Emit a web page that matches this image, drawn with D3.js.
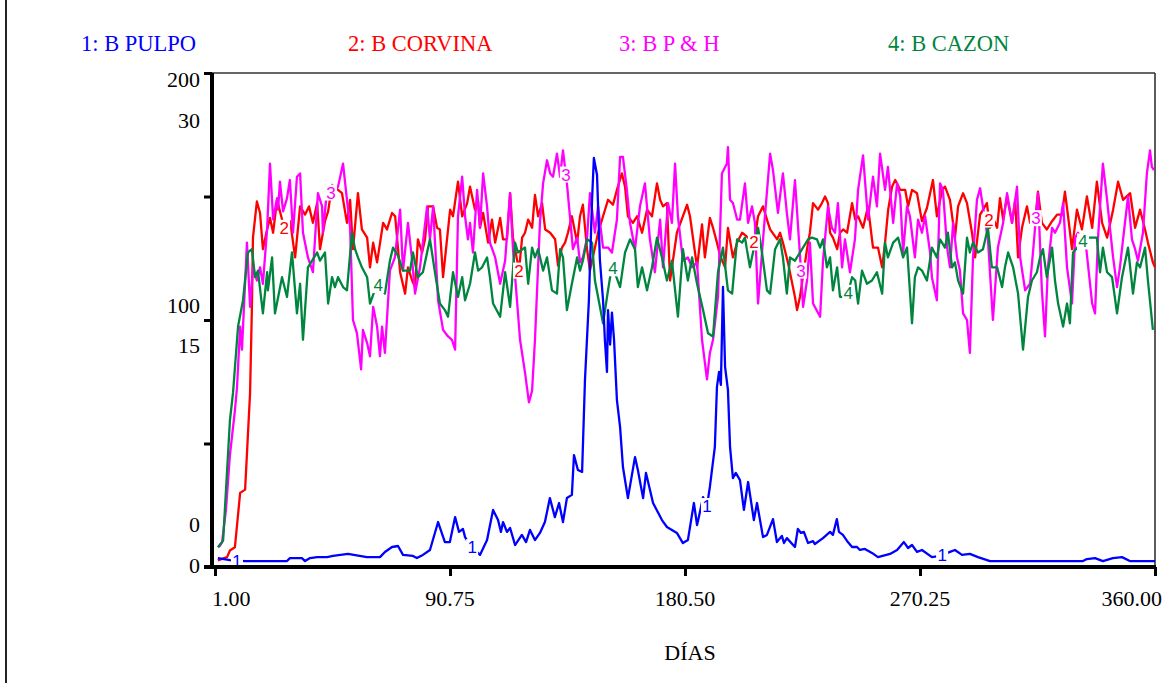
<!DOCTYPE html>
<html><head><meta charset="utf-8">
<script src="https://cdn.jsdelivr.net/npm/d3@7"></script>
<style>body{margin:0;background:#fff;} svg{display:block;}</style>
</head><body>
<svg id="chart" width="1171" height="683"></svg>
<script>
// ---------- DATA ----------
const seriesNames = ["1: B PULPO", "2: B CORVINA", "3: B P & H", "4: B CAZON"];
const xTickValues = [1, 90.75, 180.5, 270.25, 360];
const xTickLabels = ["1.00", "90.75", "180.50", "270.25", "360.00"];
const yTicksPulpo = [0, 50, 100, 150, 200];
const yLabelsPulpo = ["0", "", "100", "", "200"];
const yLabelsOthers = ["0", "", "15", "", "30"];
const xTitle = "DÍAS";

// [day, value]
const pulpo = [[2.1,3.6],[6.7,2.8],[12.5,2.4],[28.5,2.4],[29.6,3.6],[34.2,3.6],[35.4,2.4],[37.3,3.6],[40,4.0],[43.8,4.0],[46.1,4.5],[51.8,5.3],[59,4.0],[64,4.0],[65.9,6.1],[68.6,8.1],[70.9,8.5],[72.8,4.9],[76.6,4.5],[78.1,3.6],[80.4,4.9],[83.1,6.9],[86.2,18.2],[88.8,10.1],[90.7,10.1],[92.7,20.2],[94.2,14.2],[95.7,15.4],[96.5,12.1],[98.4,8.9],[102.2,4.9],[104.9,10.9],[107.2,23.1],[109.1,19.0],[110.2,14.2],[111,18.2],[112.5,14.2],[113.7,15.8],[115.6,8.9],[118.2,13.0],[119.8,10.1],[121.3,15.0],[123.2,10.9],[125.1,13.8],[127,18.2],[128.9,27.9],[130.8,20.2],[132.4,25.9],[133.9,18.2],[135.4,27.9],[137.3,29.2],[138.1,45.3],[139.6,39.3],[141.2,38.5],[142.3,75.7],[143.8,108.1],[145.0,148.6],[145.7,165.6],[146.9,158.7],[148.0,124.3],[149.2,108],[149.9,92],[150.7,79],[151.1,104],[151.9,90],[152.6,103],[153.4,92],[154.5,67.6],[155.7,56.7],[156.8,40.5],[158.7,27.9],[161.4,44.5],[162.5,39.3],[164.5,27.9],[165.6,38.1],[168.3,25.9],[171.7,19.0],[173.6,16.2],[175.5,15.0],[177.4,13.8],[179.7,9.7],[181.6,10.9],[183.9,25.9],[185.1,17.0],[185.8,20.2],[187.4,28.3],[188.9,24.7],[190.0,32.4],[191.9,48.6],[192.7,72.9],[193.5,79.0],[194.2,73.7],[195.0,113.4],[195.8,81.0],[196.9,71.7],[197.7,48.6],[198.8,36.0],[199.9,38.1],[201.5,35.2],[203.0,23.1],[204.6,34.4],[206.8,19.0],[208.0,25.9],[210.3,12.1],[211.8,13.0],[214.1,19.4],[215.6,10.1],[217.5,12.6],[218.3,9.7],[219.4,11.7],[222.5,8.1],[223.6,15.4],[224.8,13.8],[225.9,14.2],[227.5,9.7],[229.4,10.5],[230.1,9.3],[233.2,11.7],[235.9,14.2],[237.0,13.0],[238.5,19.4],[239.3,14.2],[240.8,13.0],[242.7,10.1],[244.3,8.1],[246.2,8.1],[247.3,6.9],[249.2,7.3],[251.9,5.7],[254.2,4.0],[258.8,5.3],[261.5,6.9],[264.1,10.1],[265.7,7.7],[267.2,8.9],[269.1,6.1],[271.0,6.9],[274.8,4.0],[277.9,4.5],[281.7,6.1],[283.6,6.9],[286.3,4.9],[289.3,5.3],[292.4,4.0],[297.0,2.4],[332.5,2.4],[334.0,3.2],[337.1,3.6],[340.1,2.4],[343.9,3.6],[347.4,4.0],[350.4,2.4],[360,2.4]];

const corvina = [[2.1,0.4],[5.6,0.6],[6.7,1.0],[8.6,1.2],[10.6,4.5],[12.5,4.7],[14.4,10.6],[15.1,15.8],[15.5,20.0],[17.0,22.2],[18.2,21.5],[19.3,19.3],[20.9,20.5],[22.0,21.2],[23.2,20.3],[24.7,22.3],[27.4,20.6],[29.7,21.0],[31.6,18.8],[33.5,21.9],[35.4,21.4],[36.9,21.9],[38.4,20.9],[40.0,22.1],[41.1,19.3],[43.0,21.0],[44.2,21.6],[45.7,23.2],[49.5,22.7],[51.4,20.9],[52.6,22.3],[53.7,19.3],[55.6,22.7],[57.1,20.5],[59.1,20.0],[60.2,18.2],[61.4,19.7],[62.9,18.5],[65.2,20.9],[66.7,20.5],[68.6,21.5],[69.8,21.3],[71.7,17.9],[73.6,16.6],[74.7,18.2],[76.3,17.4],[77.4,17.0],[78.5,19.9],[80.1,19.1],[81.2,19.9],[82.4,21.9],[84.3,21.9],[85.8,20.6],[86.9,20.5],[88.1,17.6],[90.8,21.7],[91.9,21.3],[93.8,23.4],[95.4,21.3],[97.3,22.1],[98.4,23.1],[100.3,21.7],[101.5,22.2],[102.2,20.6],[103.4,21.5],[105.3,19.7],[106.8,21.1],[108.0,19.7],[109.9,21.2],[111.0,19.9],[112.5,19.9],[113.7,22.7],[114.8,20.0],[117.1,18.0],[118.3,20.0],[119.4,20.3],[120.6,21.1],[122.1,20.6],[123.2,22.6],[124.4,21.3],[125.9,22.1],[127.1,20.5],[129.0,20.3],[130.9,19.9],[132.0,18.3],[133.5,19.4],[134.7,19.7],[135.8,20.3],[137.3,21.3],[139.3,19.7],[140.4,21.3],[141.5,22.0],[143.1,19.3],[144.2,18.0],[146.1,19.4],[147.3,20.3],[149.2,21.3],[151.1,22.3],[153.0,22.0],[154.5,22.9],[156.4,23.9],[157.6,23.1],[158.7,21.3],[160.6,20.9],[162.2,21.3],[164.1,20.3],[166.0,21.7],[167.9,21.3],[169.8,23.3],[171.0,22.3],[172.1,21.9],[173.6,22.1],[174.8,17.4],[177.4,20.3],[181.3,22.0],[182.4,21.3],[185.1,18.2],[187.0,20.8],[188.1,18.8],[190.0,21.2],[191.2,20.6],[192.7,19.7],[193.9,18.9],[195.8,18.2],[196.9,20.6],[198.8,18.8],[200.4,19.7],[202.3,20.3],[206.9,19.7],[208.4,21.3],[210.3,21.9],[211.8,21.1],[213.0,20.5],[215.7,19.9],[216.8,20.3],[217.9,19.7],[219.8,18.5],[222.5,16.4],[223.3,15.6],[224.4,16.4],[227.1,19.3],[228.2,20.3],[229.4,22.1],[231.3,21.7],[232.8,22.1],[234.0,22.5],[235.1,22.1],[235.9,20.3],[237.0,20.0],[238.6,19.3],[239.7,20.3],[240.9,20.5],[242.4,20.3],[244.3,22.1],[245.5,21.1],[246.6,21.3],[248.5,20.6],[250.4,21.9],[252.3,19.4],[254.2,19.4],[255.8,18.2],[256.9,19.7],[258.1,21.7],[259.6,23.1],[260.8,23.5],[262.7,22.9],[264.6,22.9],[265.7,21.9],[267.2,22.9],[269.1,22.7],[271.0,21.0],[272.9,21.8],[275.2,23.5],[276.7,21.3],[278.7,22.9],[279.8,23.1],[281.7,22.3],[283.6,20.0],[284.8,21.9],[286.7,22.7],[288.2,22.1],[290.1,20.3],[291.3,18.8],[293.2,21.4],[295.8,22.1],[297.0,20.6],[298.1,21.2],[299.7,20.6],[300.8,22.4],[302.0,21.1],[303.5,22.5],[305.4,20.9],[306.6,22.3],[307.7,18.8],[309.2,20.6],[311.1,21.9],[312.3,20.9],[314.2,20.9],[315.3,22.8],[316.8,20.9],[318.7,20.5],[320.7,21.0],[322.6,21.4],[324.5,21.4],[325.6,22.8],[326.8,21.3],[328.3,19.3],[330.2,21.7],[332.1,20.5],[334.0,22.5],[336.0,20.6],[337.8,23.4],[339.8,20.9],[341.7,20.0],[344.0,21.7],[345.9,23.4],[347.8,22.3],[350.5,22.7],[352.4,20.6],[354.3,21.7],[356.2,20.5],[357.3,19.7],[359.2,18.5],[360,18.2]];

const pph = [[2.5,1.2],[3.7,1.5],[5.2,3.5],[6.7,6.8],[8.6,9.5],[9.4,10.9],[10.6,14.6],[11.3,13.2],[13.2,19.7],[14.4,15.8],[15.5,18.2],[17.0,17.4],[18.2,18.2],[19.3,17.2],[20.9,20.5],[22.0,24.5],[23.2,21.1],[24.7,22.4],[25.1,21.7],[25.8,23.4],[27.0,21.6],[28.5,22.4],[29.6,23.5],[30.8,20.3],[32.3,23.7],[33.5,23.9],[34.6,20.3],[36.5,18.8],[38.4,17.9],[40.3,22.7],[41.9,21.9],[42.2,20.3],[43.8,22.9],[45.7,22.7],[48.0,23.1],[49.9,24.5],[51.4,22.3],[52.6,20.6],[53.7,15.0],[55.2,14.2],[56.8,12.0],[57.5,14.4],[59.1,13.6],[60.2,12.8],[61.4,15.8],[62.9,14.6],[64.0,12.8],[64.8,14.6],[65.9,13.0],[67.8,18.0],[69.7,18.8],[71.7,21.7],[72.8,18.0],[74.7,20.9],[76.3,18.6],[77.4,16.6],[79.3,18.2],[82.0,21.9],[83.1,19.9],[84.3,21.9],[86.2,16.2],[88.1,14.4],[90.0,14.0],[91.5,13.8],[92.7,13.2],[93.8,21.3],[95.4,23.7],[96.5,21.3],[97.6,19.9],[98.4,20.9],[99.5,19.1],[101.1,22.9],[102.2,20.6],[103.4,23.9],[104.9,21.9],[106.0,19.7],[108.0,18.8],[109.9,17.2],[111.8,18.6],[113.7,22.7],[114.8,19.3],[117.5,13.8],[119.4,11.8],[120.9,10.0],[122.1,10.7],[123.2,13.8],[125.1,20.9],[126.3,23.3],[127.8,24.7],[129.0,23.9],[130.1,23.7],[131.6,25.1],[132.8,23.7],[133.9,25.3],[135.4,23.3],[137.7,19.3],[139.3,20.0],[140.4,18.5],[141.5,18.8],[143.1,20.0],[144.2,22.7],[146.1,20.3],[147.3,21.9],[149.2,19.4],[151.1,19.4],[152.6,19.1],[154.5,21.1],[155.7,24.9],[156.8,24.9],[158.3,22.9],[159.5,20.9],[161.4,19.3],[163.3,21.9],[165.2,23.3],[167.1,19.9],[169.0,17.9],[171.0,21.1],[172.1,18.2],[174.0,22.1],[175.5,20.9],[176.7,24.5],[177.8,21.3],[179.7,18.6],[181.6,18.8],[183.2,18.2],[185.1,18.5],[187.0,13.8],[188.9,11.4],[190.0,13.0],[191.2,13.8],[193.1,16.4],[194.6,23.9],[196.5,24.5],[196.9,25.5],[197.7,22.3],[198.8,22.1],[200.4,21.1],[201.5,21.1],[203.4,23.3],[204.6,20.9],[206.1,21.9],[207.2,20.9],[208.4,16.0],[210.3,19.9],[213.0,25.1],[214.1,24.1],[216.0,21.5],[217.9,23.9],[219.4,21.5],[220.6,19.9],[222.5,23.5],[224.8,18.0],[225.6,15.8],[227.1,17.4],[228.2,19.7],[229.4,16.0],[232.1,15.2],[233.2,18.6],[235.1,21.9],[236.6,20.6],[237.8,20.3],[238.9,22.1],[240.5,18.2],[241.6,19.9],[243.5,17.9],[245.4,19.9],[246.6,22.9],[248.5,25.0],[250.4,21.1],[252.3,23.7],[253.8,21.9],[255.0,25.1],[256.9,22.9],[258.0,24.3],[260.0,20.9],[261.5,23.3],[262.7,22.5],[263.8,19.1],[265.3,21.9],[266.4,21.3],[268.3,18.8],[269.5,21.1],[271.0,20.3],[272.2,21.3],[274.1,19.1],[274.8,17.6],[276.7,16.2],[277.9,23.3],[279.0,22.9],[280.6,19.4],[281.7,18.2],[282.9,20.9],[284.4,18.8],[285.5,18.0],[286.7,15.4],[288.2,15.0],[289.3,13.0],[290.5,18.8],[292.0,22.3],[293.2,23.0],[296.2,19.9],[298.1,15.0],[300.0,19.4],[302.0,20.9],[303.5,22.7],[305.4,20.9],[307.3,23.1],[308.5,18.8],[310.4,16.8],[312.3,17.2],[313.4,19.1],[315.3,22.7],[316.8,16.8],[318.0,14.0],[319.1,18.2],[320.7,20.6],[321.8,20.3],[323.7,20.9],[324.9,22.1],[326.4,18.2],[328.3,16.0],[329.5,20.0],[330.6,20.3],[332.1,19.9],[333.3,20.0],[336.0,16.0],[337.1,15.4],[338.2,19.9],[340.1,24.5],[341.7,22.3],[342.8,20.6],[344.0,18.8],[345.5,17.0],[346.6,18.2],[347.8,19.9],[349.7,22.5],[351.2,19.9],[352.4,19.3],[353.5,18.6],[355.4,20.3],[356.9,23.9],[358.1,25.3],[358.8,24.3],[359.6,24.1]];

const cazon = [[2.1,1.2],[4.1,1.6],[6.7,8.9],[7.9,10.6],[9.8,14.6],[11.7,16.2],[13.6,19.1],[15.1,19.3],[16.3,17.6],[17.4,18.0],[19.3,15.4],[20.9,17.9],[21.2,16.8],[22.8,18.8],[23.9,15.4],[26.6,17.6],[28.5,16.4],[30.4,19.1],[32.3,15.4],[33.5,17.2],[34.6,13.8],[36.5,18.2],[40.0,19.1],[41.1,18.6],[43.0,19.1],[44.2,16.0],[45.7,17.6],[46.8,17.0],[48.0,17.6],[49.9,17.0],[51.4,16.8],[53.3,20.3],[54.5,19.3],[55.6,18.8],[57.1,18.2],[59.1,17.6],[60.2,16.0],[62.9,17.2],[65.9,16.6],[67.8,18.6],[69.0,19.4],[70.9,18.9],[72.8,18.0],[75.5,18.0],[76.6,19.1],[78.5,17.6],[80.4,17.9],[82.0,19.1],[83.1,19.9],[85.0,17.9],[86.9,16.0],[88.8,15.6],[90.0,15.2],[91.9,17.9],[93.8,16.4],[95.4,17.6],[96.5,16.2],[98.4,17.2],[100.3,19.1],[101.5,18.0],[103.0,18.2],[104.9,18.8],[106.0,17.6],[107.2,16.0],[109.9,15.2],[111.8,17.9],[113.7,15.8],[115.6,19.7],[116.7,19.1],[119.4,19.4],[120.6,17.2],[122.1,19.4],[123.2,18.8],[124.4,19.3],[126.3,18.0],[127.8,18.8],[129.7,16.8],[131.6,16.6],[132.8,19.3],[133.9,18.8],[135.4,15.6],[137.3,17.2],[139.3,18.8],[140.4,18.0],[141.5,18.6],[143.1,19.9],[145.0,19.7],[146.1,17.4],[147.3,16.4],[149.2,14.8],[151.1,16.8],[152.6,18.3],[154.1,17.7],[155.7,17.0],[157.6,19.1],[159.5,19.9],[161.4,19.3],[162.5,17.0],[164.1,18.2],[166.0,16.8],[167.9,18.2],[169.8,20.0],[171.7,18.8],[173.6,17.4],[175.5,18.6],[177.8,15.2],[179.7,19.3],[181.6,17.4],[183.2,18.8],[185.1,17.2],[187.4,15.6],[189.3,14.2],[191.2,14.0],[193.1,17.9],[195.0,19.4],[196.9,16.8],[198.5,16.6],[200.4,19.9],[202.3,19.7],[203.4,20.0],[205.3,18.2],[208.4,20.6],[209.9,19.1],[211.8,16.8],[213.0,16.6],[214.9,19.3],[216.8,19.9],[217.9,18.8],[219.4,16.6],[220.6,18.8],[222.5,18.6],[227.5,19.9],[229.0,20.0],[230.9,19.9],[232.1,19.4],[233.2,19.9],[234.7,18.2],[235.9,18.8],[237.0,16.8],[238.6,18.2],[239.7,16.4],[242.4,16.4],[244.3,17.6],[245.5,17.4],[246.6,16.0],[248.1,18.0],[250.0,17.2],[251.9,17.4],[253.8,17.9],[255.8,16.6],[256.9,19.7],[258.0,18.8],[260.0,19.7],[261.9,20.0],[263.8,18.8],[265.3,19.4],[267.2,14.8],[268.3,17.6],[269.5,18.2],[271.0,18.0],[272.9,17.4],[274.8,19.4],[276.7,18.8],[277.9,19.9],[279.8,19.4],[280.9,20.3],[282.5,18.2],[283.6,18.5],[284.8,17.4],[286.7,16.6],[288.2,20.0],[289.3,19.1],[290.5,19.7],[292.4,19.1],[294.3,19.3],[296.2,20.6],[297.7,18.2],[299.7,18.2],[301.6,17.0],[302.7,18.2],[303.9,19.1],[305.8,18.2],[307.7,16.6],[309.6,13.2],[311.5,16.4],[313.0,17.4],[314.9,17.9],[316.1,18.8],[317.2,19.3],[318.7,17.6],[320.7,19.4],[321.8,17.4],[323.0,16.0],[324.9,14.6],[326.4,16.0],[327.5,14.8],[328.7,19.1],[331.4,19.6],[334.0,20.0],[336.0,20.0],[337.8,20.0],[339.0,17.9],[340.1,19.4],[341.7,17.9],[343.6,17.6],[345.5,15.4],[347.4,17.6],[349.7,19.4],[351.6,16.6],[353.1,18.5],[354.3,18.2],[356.2,19.4],[357.3,17.4],[359.2,14.4]];

// day positions of the numbered line labels
const labelDays = [
  [9.4, 99.2, 188.9, 278.7],
  [27.4, 117.1, 206.8, 296.6],
  [45.3, 135.0, 224.8, 314.5],
  [63.3, 153.0, 242.8, 332.5]
];

// ---------- LAYOUT / STYLE ----------
const colors = ["#0000ff", "#ff0000", "#ff00ff", "#00853f"];
const serif = "'Liberation Serif','Times New Roman',Times,serif";
const W = 1171, H = 683;
const plotLeft = 215, plotRight = 1155, plotTop = 73, plotBottom = 567;

const svg = d3.select("#chart");
svg.append("rect").attr("width", W).attr("height", H).attr("fill", "#fff");

// outer frame (left edge)
svg.append("line").attr("x1", 6).attr("x2", 6).attr("y1", 0).attr("y2", H)
  .attr("stroke", "#222").attr("stroke-width", 2);

const x = d3.scaleLinear().domain([1, 360]).range([plotLeft, plotRight]);
const yPulpo = d3.scaleLinear().domain([0, 200]).range([plotBottom, plotTop]);
const yOther = d3.scaleLinear().domain([0, 30]).range([plotBottom, plotTop]);

// top and right frame of plot
svg.append("line").attr("x1", 212).attr("x2", plotRight).attr("y1", plotTop).attr("y2", plotTop)
  .attr("stroke", "#333").attr("stroke-width", 1.6);
svg.append("line").attr("x1", plotRight).attr("x2", plotRight).attr("y1", plotTop).attr("y2", plotBottom)
  .attr("stroke", "#333").attr("stroke-width", 1.6);

// legend
const legendX = [81, 348, 619, 888];
seriesNames.forEach((n, i) => {
  svg.append("text").attr("x", legendX[i]).attr("y", 51)
    .attr("font-family", serif).attr("font-size", 22.5).attr("fill", colors[i]).text(n);
});

// series lines
const seriesData = [pulpo, corvina, pph, cazon];
const yScales = [yPulpo, yOther, yOther, yOther];
const drawOrder = [1, 2, 3, 0];
const gLines = svg.append("g");
drawOrder.forEach(i => {
  const line = d3.line().x(d => x(d[0])).y(d => yScales[i](d[1]));
  gLines.append("path").datum(seriesData[i]).attr("d", line)
    .attr("fill", "none").attr("stroke", colors[i]).attr("stroke-width", 2.3)
    .attr("stroke-linejoin", "round");
});

// numbered labels on lines
const bis = d3.bisector(d => d[0]).left;
function interp(data, day) {
  let i = bis(data, day);
  if (i <= 0) return data[0][1];
  if (i >= data.length) return data[data.length - 1][1];
  const a = data[i - 1], b = data[i];
  const t = (day - a[0]) / (b[0] - a[0]);
  return a[1] + t * (b[1] - a[1]);
}
const gLab = svg.append("g");
labelDays.forEach((days, i) => {
  days.forEach(day => {
    const px = x(day);
    let py = yScales[i](interp(seriesData[i], day));
    py = Math.min(py, plotBottom - 6);
    gLab.append("rect").attr("x", px - 6).attr("y", py - 8).attr("width", 12).attr("height", 16).attr("fill", "#fff");
    gLab.append("text").attr("x", px).attr("y", py + 6).attr("text-anchor", "middle")
      .attr("font-family", "'Liberation Sans',Arial,sans-serif").attr("font-size", 17)
      .attr("fill", colors[i]).text(String(i + 1));
  });
});

// left axis
const yAxis = d3.axisLeft(yPulpo).tickValues(yTicksPulpo).tickSize(8).tickFormat("");
const gy = svg.append("g").attr("transform", "translate(212,0)").call(yAxis);
gy.select(".domain").attr("stroke", "#000").attr("stroke-width", 4).attr("d", `M0,${plotTop}V${plotBottom + 2}`);
gy.selectAll(".tick line").attr("stroke", "#000").attr("stroke-width", 3);

// left axis labels (two stacked scales)
const labelOffsets1 = [6, 0, -7, 0, 14];   // baseline offset from tick for scale 1
const labelOffsets2 = [-35, 0, 33, 0, 55]; // baseline offset from tick for scale 2
yTicksPulpo.forEach((t, k) => {
  const ty = yPulpo(t);
  if (yLabelsPulpo[k]) svg.append("text").attr("x", 200).attr("y", ty + labelOffsets1[k])
    .attr("text-anchor", "end").attr("font-family", serif).attr("font-size", 22).attr("fill", "#000").text(yLabelsPulpo[k]);
  if (yLabelsOthers[k]) svg.append("text").attr("x", 200).attr("y", ty + labelOffsets2[k])
    .attr("text-anchor", "end").attr("font-family", serif).attr("font-size", 22).attr("fill", "#000").text(yLabelsOthers[k]);
});

// bottom axis
const xAxis = d3.axisBottom(x).tickValues(xTickValues).tickSize(9).tickFormat("");
const gx = svg.append("g").attr("transform", `translate(0,${plotBottom})`).call(xAxis);
gx.select(".domain").attr("stroke", "#000").attr("stroke-width", 4).attr("d", `M204,0H${plotRight + 1}`);
gx.selectAll(".tick line").attr("stroke", "#000").attr("stroke-width", 3);

xTickValues.forEach((t, k) => {
  const anchor = k === 0 ? "start" : (k === xTickValues.length - 1 ? "end" : "middle");
  const px = k === 0 ? x(t) - 3 : (k === xTickValues.length - 1 ? x(t) + 7 : x(t));
  svg.append("text").attr("x", px).attr("y", 606).attr("text-anchor", anchor)
    .attr("font-family", serif).attr("font-size", 22).attr("fill", "#000").text(xTickLabels[k]);
});

svg.append("text").attr("x", 690).attr("y", 660).attr("text-anchor", "middle")
  .attr("font-family", serif).attr("font-size", 22).attr("fill", "#000").text(xTitle);
</script>
</body></html>
